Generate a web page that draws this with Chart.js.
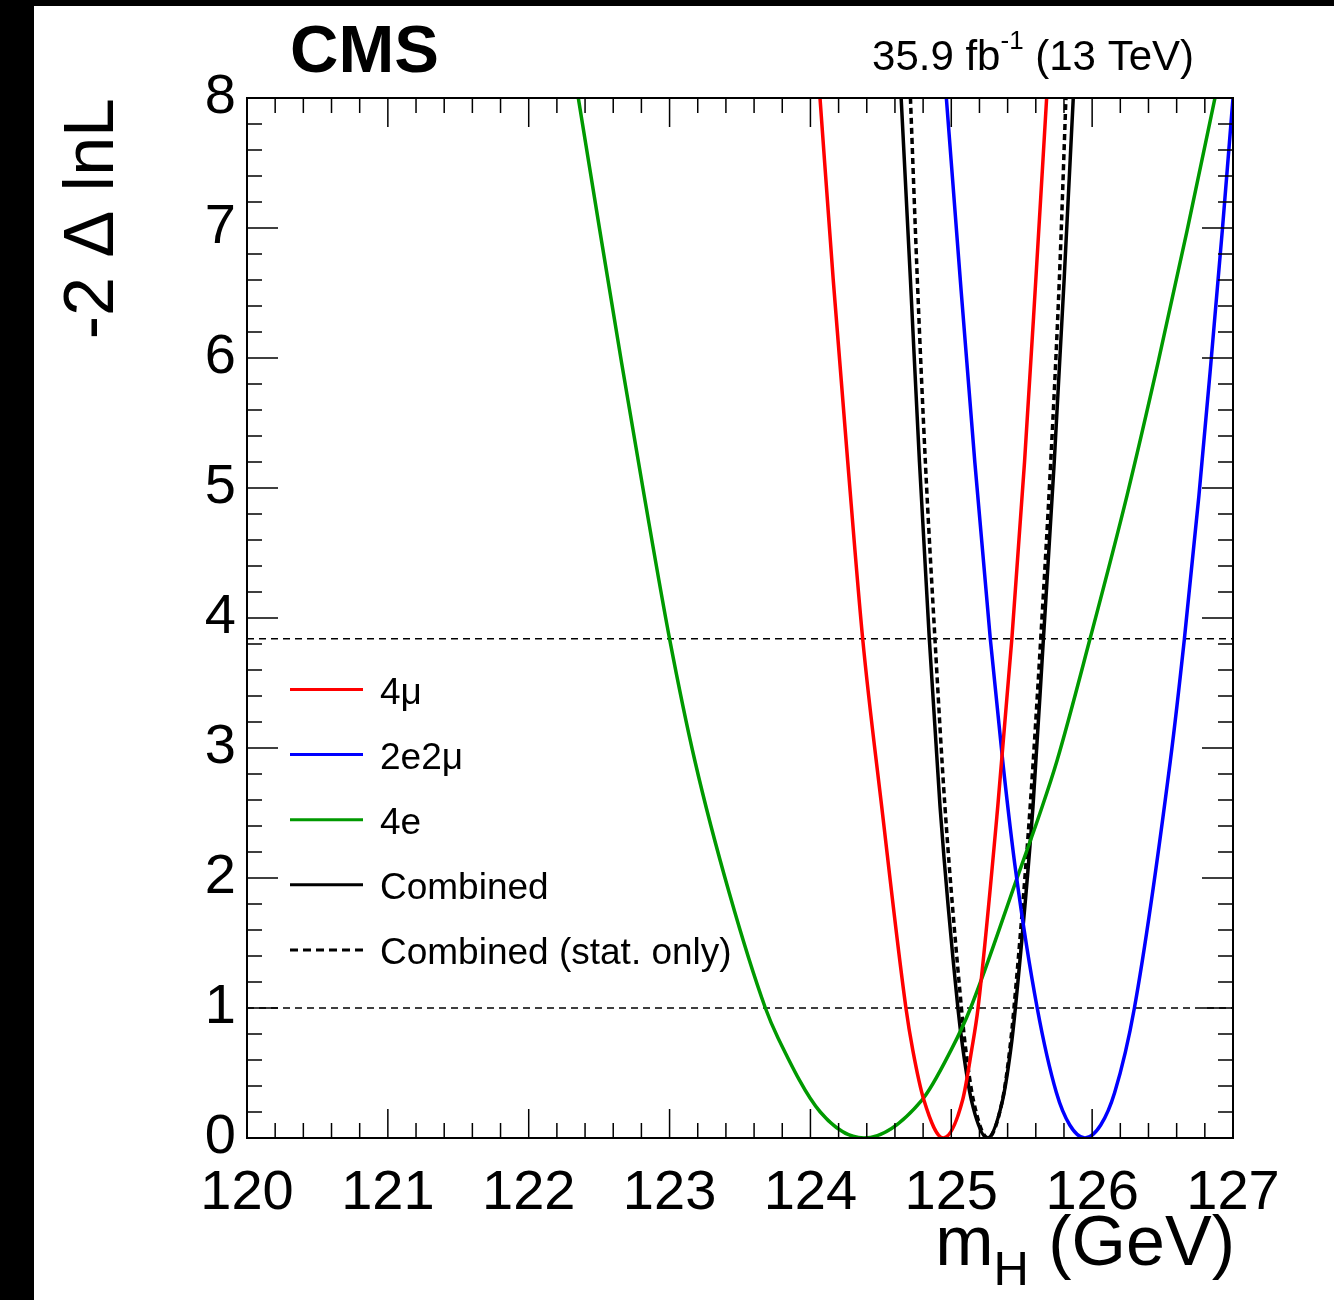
<!DOCTYPE html>
<html>
<head>
<meta charset="utf-8">
<script src="https://cdn.jsdelivr.net/npm/chart.js@4.4.0/dist/chart.umd.min.js"></script>
<style>
  html, body { margin: 0; padding: 0; background: #000; }
  #wrap { position: absolute; left: 34px; top: 6px; width: 1300px; height: 1294px; background: #fff; }
  canvas { display: block; }
</style>
</head>
<body>
<div id="wrap"><canvas id="nll" width="1300" height="1294"></canvas></div>
<script>
// -2 delta lnL scans vs mH
const redX   = [124.068, 124.162, 124.265, 124.371, 124.506, 124.678, 124.726, 124.806, 124.943, 125.080, 125.145, 125.190, 125.330, 125.430, 125.520, 125.600, 125.677];
const redY   = [8, 6.6, 5.2, 3.84, 2.55, 1.0, 0.68, 0.29, 0, 0.29, 0.68, 1.0, 2.55, 3.84, 5.2, 6.6, 8];

const blueX  = [124.965, 125.064, 125.167, 125.277, 125.369, 125.459, 125.610, 125.746, 125.841, 125.949, 126.061, 126.160, 126.300, 126.555, 126.655, 126.758, 126.843, 126.924, 127.000];
const blueY  = [8, 6.6, 5.2, 3.84, 2.86, 2.04, 1.0, 0.35, 0.1, 0, 0.1, 0.35, 1.0, 2.9, 3.84, 4.94, 5.96, 6.98, 8];

const greenX = [122.352, 122.505, 122.660, 122.820, 123.000, 123.180, 123.425, 123.680, 123.770, 124.070, 124.380, 124.790, 125.000, 125.137, 125.480, 125.630, 125.750, 125.985, 126.247, 126.467, 126.674, 126.872];
const greenY = [8, 6.98, 5.96, 4.94, 3.84, 2.90, 1.88, 1.0, 0.77, 0.2, 0, 0.29, 0.68, 1.0, 2.04, 2.5, 2.9, 3.84, 4.94, 5.96, 6.98, 8];

const combX  = [124.644, 124.710, 124.774, 124.844, 124.920, 125.047, 125.083, 125.143, 125.256, 125.364, 125.422, 125.455, 125.580, 125.654, 125.731, 125.801, 125.866];
const combY  = [8, 6.6, 5.2, 3.84, 2.55, 1.0, 0.68, 0.29, 0, 0.29, 0.68, 1.0, 2.55, 3.84, 5.2, 6.6, 8];

const statX  = [124.710, 124.759, 124.816, 124.884, 124.955, 125.072, 125.103, 125.157, 125.260, 125.363, 125.415, 125.445, 125.560, 125.635, 125.706, 125.767, 125.814];
const statY  = [8, 6.6, 5.2, 3.84, 2.55, 1.0, 0.68, 0.29, 0, 0.29, 0.68, 1.0, 2.55, 3.84, 5.2, 6.6, 8];

// 68% and 95% CL reference levels
const levels = [1, 3.84];
const xRange = [120, 127];
const yRange = [0, 8];

const FONT = "'Liberation Sans', Arial, Helvetica, sans-serif";

function curve(label, xs, ys, color, dash) {
  return {
    label: label,
    data: xs.map((x, i) => ({ x: x, y: ys[i] })),
    borderColor: color,
    borderWidth: 3.5,
    borderDash: dash || [],
    pointRadius: 0,
    fill: false,
    cubicInterpolationMode: 'monotone'
  };
}

function levelLine(v) {
  return {
    label: 'level ' + v,
    data: xRange.map(x => ({ x: x, y: v })),
    borderColor: '#000',
    borderWidth: 1.5,
    borderDash: [7, 5],
    pointRadius: 0,
    fill: false
  };
}

// draws text made of runs with different sizes / baseline shifts
function drawRuns(ctx, runs, x, y, align) {
  let total = 0;
  runs.forEach(r => {
    ctx.font = r.font;
    r.w = ctx.measureText(r.text).width;
    total += r.w;
  });
  let cx = align === 'right' ? x - total : x;
  ctx.textAlign = 'left';
  ctx.textBaseline = 'alphabetic';
  runs.forEach(r => {
    ctx.font = r.font;
    ctx.fillText(r.text, cx, y + (r.dy || 0));
    cx += r.w;
  });
}

const rootStyle = {
  id: 'rootStyle',
  afterDraw(chart) {
    const ctx = chart.ctx;
    const a = chart.chartArea;
    const xs = chart.scales.x;
    const ys = chart.scales.y;
    ctx.save();
    ctx.strokeStyle = '#000';
    ctx.fillStyle = '#000';

    // ticks on all four sides, pointing inwards
    ctx.lineWidth = 1.5;
    ctx.beginPath();
    for (let i = 0; i <= 35; i++) {
      const px = xs.getPixelForValue(xRange[0] + i * 0.2);
      const len = i % 5 === 0 ? 29 : 15;
      ctx.moveTo(px, a.bottom); ctx.lineTo(px, a.bottom - len);
      ctx.moveTo(px, a.top); ctx.lineTo(px, a.top + len);
    }
    for (let i = 0; i <= 40; i++) {
      const py = ys.getPixelForValue(yRange[0] + i * 0.2);
      const len = i % 5 === 0 ? 31 : 15;
      ctx.moveTo(a.left, py); ctx.lineTo(a.left + len, py);
      ctx.moveTo(a.right, py); ctx.lineTo(a.right - len, py);
    }
    ctx.stroke();

    // frame
    ctx.lineWidth = 2;
    ctx.strokeRect(a.left, a.top, a.right - a.left, a.bottom - a.top);

    // CMS label and luminosity
    ctx.font = 'bold 67px ' + FONT;
    ctx.textAlign = 'left';
    ctx.textBaseline = 'alphabetic';
    ctx.fillText('CMS', 256, 66);
    drawRuns(ctx, [
      { text: '35.9 fb', font: '42px ' + FONT },
      { text: '-1', font: '26px ' + FONT, dy: -21 },
      { text: ' (13 TeV)', font: '42px ' + FONT }
    ], 1160, 64, 'right');

    // x title
    drawRuns(ctx, [
      { text: 'm', font: '70px ' + FONT },
      { text: 'H', font: '49px ' + FONT, dy: 20 },
      { text: ' (GeV)', font: '70px ' + FONT }
    ], 1201, 1259, 'right');

    // y title
    ctx.save();
    ctx.translate(79, 92);
    ctx.rotate(-Math.PI / 2);
    ctx.font = '70px ' + FONT;
    ctx.textAlign = 'right';
    ctx.textBaseline = 'alphabetic';
    ctx.fillText('-2 \u0394 lnL', 0, 0);
    ctx.restore();

    // legend
    const rowY0 = 683.5, rowStep = 65.1;
    chart.data.datasets.slice(0, 5).forEach((ds, i) => {
      const y = rowY0 + i * rowStep;
      ctx.beginPath();
      ctx.lineWidth = 3;
      ctx.strokeStyle = ds.borderColor;
      ctx.setLineDash(ds.borderDash.length ? [8, 5] : []);
      ctx.moveTo(256, y);
      ctx.lineTo(329, y);
      ctx.stroke();
      ctx.setLineDash([]);
      ctx.font = '37px ' + FONT;
      ctx.textAlign = 'left';
      ctx.fillText(ds.label, 346, y + 14);
    });
    ctx.restore();
  }
};

new Chart(document.getElementById('nll'), {
  type: 'line',
  data: {
    datasets: [
      curve('4\u03bc', redX, redY, '#ff0000'),
      curve('2e2\u03bc', blueX, blueY, '#0000ff'),
      curve('4e', greenX, greenY, '#009900'),
      curve('Combined', combX, combY, '#000000'),
      curve('Combined (stat. only)', statX, statY, '#000000', [6, 4]),
      levelLine(levels[0]),
      levelLine(levels[1])
    ]
  },
  options: {
    responsive: false,
    animation: false,
    devicePixelRatio: 1,
    layout: { padding: { top: 92, right: 101, left: 0, bottom: 0 } },
    plugins: {
      legend: { display: false },
      tooltip: { enabled: false }
    },
    scales: {
      x: {
        type: 'linear',
        min: xRange[0],
        max: xRange[1],
        afterFit: s => { s.height = 162; },
        ticks: {
          stepSize: 1,
          maxRotation: 0,
          autoSkip: false,
          padding: 22,
          color: '#000',
          font: { family: FONT, size: 56 }
        },
        grid: { display: false, drawTicks: false },
        border: { display: false }
      },
      y: {
        type: 'linear',
        min: yRange[0],
        max: yRange[1],
        afterFit: s => { s.width = 213; },
        ticks: {
          stepSize: 1,
          padding: 11,
          color: '#000',
          font: { family: FONT, size: 56 }
        },
        grid: { display: false, drawTicks: false },
        border: { display: false }
      }
    }
  },
  plugins: [rootStyle]
});
</script>
</body>
</html>
